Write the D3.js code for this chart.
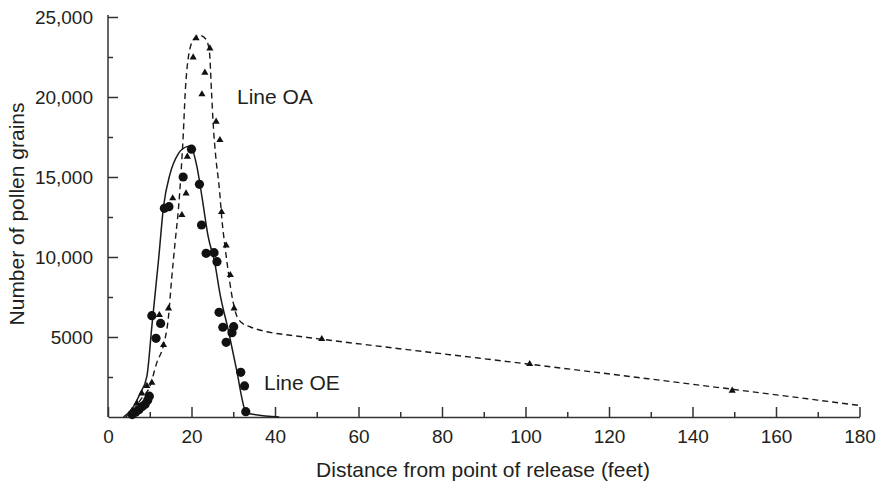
<!DOCTYPE html>
<html>
<head>
<meta charset="utf-8">
<script src="https://cdn.jsdelivr.net/npm/d3@7"></script>
<style>
  html, body { margin: 0; padding: 0; background: #fff; }
  svg text { font-family: "Liberation Sans", Arial, Helvetica, sans-serif; fill: #231f20; }
</style>
</head>
<body>
<svg id="chart" width="883" height="484"></svg>
<script>
// ---- Data ----
// Line OA: fitted dashed curve [distance ft, pollen grains]
const lineOA = [
  [4.2,0],[6,400],[8,1150],[10,1900],[11.7,3400],[13.3,4500],[14.5,6300],[15.2,8500],
  [16.1,11000],[16.9,13100],[17.5,15300],[18.0,17500],[18.5,20300],[19.2,22400],
  [20.5,23600],[22.0,23850],[23.5,23600],[24.3,22800],[24.8,20300],[25.2,18300],
  [25.8,16300],[26.7,14200],[27.3,12300],[28.0,10700],[28.8,9100],[29.6,7700],
  [30.6,6500],[32.0,5900],[34,5640],[38,5330],[43.2,5125],[50,4900],[100,3330],
  [150,1720],[180,720]
];
// Line OA: observed points (triangles)
const pointsOA = [
  [21.1,23670],[24.4,23040],[20.4,22480],[23.2,21520],[22.5,20170],[25.9,18460],
  [26.8,17310],[19.0,16270],[18.7,13980],[15.5,13670],[17.7,12625],[27.2,12810],
  [28.3,10730],[29.3,8875],[30.2,6790],[12.3,6375],[14.5,6790],[13.3,4500],
  [10.5,2145],[9.3,1940],[8.1,1480],[6.9,855],[5.8,400],[51.2,4875],[101,3310],[149.5,1645]
];
// Line OE: fitted solid curve
const lineOE = [
  [3.7,0],[6,600],[7.7,1480],[9.3,2520],[10.5,5645],[11.3,7730],[12.1,9810],
  [13.3,13145],[14.9,15230],[16.9,16480],[18.9,16900],[19.7,16940],[21.3,15650],
  [22.5,13770],[24.0,11270],[25.6,9600],[26.8,7730],[28.8,5440],[30.8,2940],
  [32.8,440],[33.2,250],[41,0]
];
// Line OE: observed points (circles)
const pointsOE = [
  [5.8,150],[6.6,300],[7.4,450],[8.2,650],[8.9,800],[9.5,1050],[9.9,1300],
  [10.5,6330],[12.6,5850],[11.5,4920],[13.5,13040],[14.6,13145],[18.0,15000],
  [20.0,16740],[21.9,14540],[22.4,12000],[23.5,10230],[25.4,10270],[26.1,9710],
  [26.6,6540],[27.5,5610],[30.1,5645],[29.7,5270],[28.3,4670],[31.8,2790],
  [32.7,1940],[33.0,330]
];
const xMajorTicks = [0,20,40,60,80,100,120,140,160,180];
const xMinorTicks = [10,30,50,70,90,110,130,150,170];
const yMajorTicks = [5000,10000,15000,20000,25000];
const yMinorTicks = [2500,7500,12500,17500,22500];
const yTickLabels = ["5000","10,000","15,000","20,000","25,000"];

// ---- Chart ----
const svg = d3.select("#chart");
const x = d3.scaleLinear().domain([0,180]).range([108,859.5]);
const y = d3.scaleLinear().domain([0,25000]).range([417,17]);
const axisColor = "#333";
const fs = 19;
const fsTitle = 21;

// x axis
const gx = svg.append("g").attr("transform", `translate(0,${y(0)})`);
gx.call(d3.axisBottom(x).tickValues(xMajorTicks).tickSize(-10).tickSizeOuter(0).tickPadding(13).tickFormat(d3.format("d")));
const gx2 = svg.append("g").attr("transform", `translate(0,${y(0)})`);
gx2.call(d3.axisBottom(x).tickValues(xMinorTicks).tickSize(-5).tickSizeOuter(0).tickFormat(""));
gx2.select(".domain").remove();

// y axis
const gy = svg.append("g").attr("transform", `translate(${x(0)},0)`);
gy.call(d3.axisLeft(y).tickValues(yMajorTicks).tickSize(-10).tickSizeOuter(0).tickPadding(15)
  .tickFormat((d,i) => yTickLabels[i]));
gy.select(".domain").attr("d", `M0,${y(0)}V${y(25000)-2}`);
const gy2 = svg.append("g").attr("transform", `translate(${x(0)},0)`);
gy2.call(d3.axisLeft(y).tickValues(yMinorTicks).tickSize(-5).tickSizeOuter(0).tickFormat(""));
gy2.select(".domain").remove();

svg.selectAll(".domain, .tick line").attr("stroke", axisColor).attr("stroke-width", 1.5);
svg.selectAll(".tick text").attr("font-size", fs).attr("font-family", null).attr("fill", "#231f20");

// axis titles
svg.append("text").attr("x", 483).attr("y", 477).attr("text-anchor", "middle")
  .attr("font-size", fsTitle).text("Distance from point of release (feet)");
svg.append("text").attr("transform", "translate(24,214) rotate(-90)").attr("text-anchor", "middle")
  .attr("font-size", fsTitle).text("Number of pollen grains");

// lines
const lineGen = d3.line().x(d => x(d[0])).y(d => y(d[1])).curve(d3.curveMonotoneX);
svg.append("path").datum(lineOA).attr("d", lineGen).attr("fill", "none")
  .attr("stroke", "#1a1a1a").attr("stroke-width", 1.4).attr("stroke-dasharray", "6,4");
svg.append("path").datum(lineOE).attr("d", lineGen).attr("fill", "none")
  .attr("stroke", "#1a1a1a").attr("stroke-width", 1.5);

// markers
const tri = d3.symbol().type(d3.symbolTriangle).size(22);
svg.append("g").selectAll("path").data(pointsOA).join("path")
  .attr("transform", d => `translate(${x(d[0])},${y(d[1])})`)
  .attr("d", tri).attr("fill", "#111");
svg.append("g").selectAll("circle").data(pointsOE).join("circle")
  .attr("cx", d => x(d[0])).attr("cy", d => y(d[1])).attr("r", 4.6).attr("fill", "#111");

// labels
svg.append("text").attr("x", 237).attr("y", 104).attr("font-size", fsTitle).text("Line OA");
svg.append("text").attr("x", 264).attr("y", 390).attr("font-size", fsTitle).text("Line OE");
</script>
</body>
</html>
